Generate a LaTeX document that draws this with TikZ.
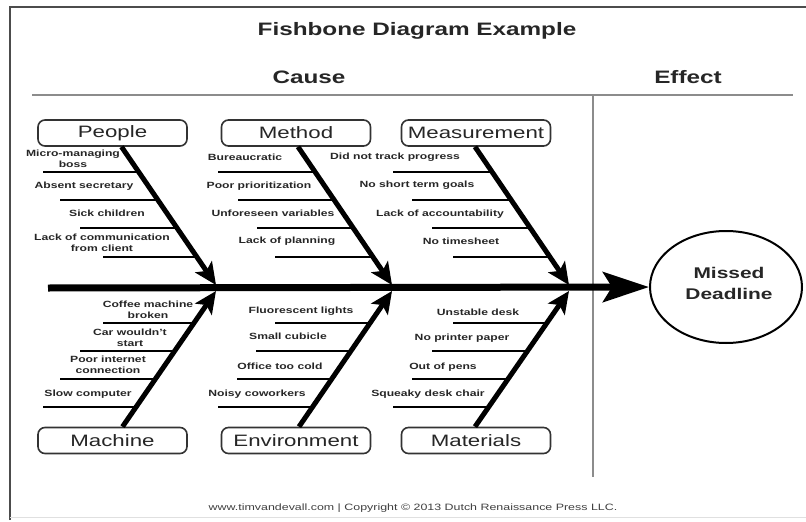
\documentclass[tikz,border=0pt]{standalone}
\usepackage{fontspec}
\setmainfont[FakeStretch=1.35]{Liberation Sans}
\usetikzlibrary{arrows.meta,shapes.geometric}
\begin{document}
\begin{tikzpicture}[x=1pt,y=-1pt,
  lab/.style={font=\fontsize{9}{11.5}\selectfont\bfseries, align=center, inner sep=0pt, text=black!85},
  catbox/.style={draw=black!80, line width=1.6pt, rounded corners=7pt, minimum width=149pt, minimum height=26pt, inner sep=0pt, font=\fontsize{16.5}{18}\selectfont, text=black!85},
  bone/.style={line width=5pt, -{Stealth[length=22pt,width=20pt,inset=5pt]}},
  twig/.style={line width=2.4pt},
  rulel/.style={draw=black!45, line width=2.5pt},
  head/.style={font=\fontsize{18}{20}\selectfont\bfseries, inner sep=0pt, text=black!85}]
\useasboundingbox (0,0) rectangle (806,522);
\fill[white] (0,0) rectangle (806,522);
% frame
\draw[black!70, line width=1.2pt] (10,520) -- (10,7) -- (806,7);
\draw[black!12, line width=1pt] (10,517) -- (806,517);
% headings
\node[head] (title) at (417,31) {Fishbone Diagram Example};
\node[head] (cause) at (309,77) {Cause};
\node[head] (effectlbl) at (688,77) {Effect};
\draw[rulel] (32,95) -- (793,95);
\draw[rulel] (593,95) -- (593,477);
% effect
\node[draw, ellipse, line width=2pt, minimum width=152pt, minimum height=112pt] (effect) at (726,287) {};
\node[align=center, inner sep=0pt, font=\fontsize{15.5}{21}\selectfont\bfseries, text=black!85] (efftext) at (729,283) {Missed\\Deadline};
% spine
\coordinate (sp) at (48,288);
\draw[line width=7pt, -{Stealth[length=46pt,width=30pt,inset=9pt]}] (sp) -- (effect.west);
% category boxes
\node[catbox] (ppl) at (112.5,133) {People};
\node[catbox] (mth) at (296,133) {Method};
\node[catbox] (msr) at (476,133) {Measurement};
\node[catbox] (mch) at (112.5,440.5) {Machine};
\node[catbox] (env) at (296,440.5) {Environment};
\node[catbox] (mat) at (476,440.5) {Materials};
% bone tips on spine
\coordinate (tp) at (216,285);
\coordinate (tm) at (392,285);
\coordinate (ts) at (569,285);
\coordinate (bm) at (216,291);
\coordinate (be) at (392,291);
\coordinate (bt) at (569,291);
% twigs
\draw[twig] (43,172) -- (139,172);
\draw[twig] (60,200) -- (158,200);
\draw[twig] (80,228) -- (177,228);
\draw[twig] (103,257) -- (197,257);
\draw[twig] (218,172) -- (315,172);
\draw[twig] (238,200) -- (334,200);
\draw[twig] (257,228) -- (353,228);
\draw[twig] (275,257) -- (373,257);
\draw[twig] (393,172) -- (492,172);
\draw[twig] (412,200) -- (511,200);
\draw[twig] (432,228) -- (530,228);
\draw[twig] (453,257) -- (550,257);
\draw[twig] (103,323) -- (194,323);
\draw[twig] (80,351) -- (175,351);
\draw[twig] (60,379) -- (156,379);
\draw[twig] (43,407) -- (137,407);
\draw[twig] (275,323) -- (370,323);
\draw[twig] (256,351) -- (351,351);
\draw[twig] (237,379) -- (332,379);
\draw[twig] (218,407) -- (313,407);
\draw[twig] (453,323) -- (546,323);
\draw[twig] (432,351) -- (527,351);
\draw[twig] (412,379) -- (508,379);
\draw[twig] (393,407) -- (489,407);
% bones
\draw[bone] ([xshift=9pt]ppl.south) -- (tp);
\draw[bone] ([xshift=2pt]mth.south) -- (tm);
\draw[bone] ([xshift=-1pt]msr.south) -- (ts);
\draw[bone] ([xshift=10pt]mch.north) -- (bm);
\draw[bone] ([xshift=3pt]env.north) -- (be);
\draw[bone] ([xshift=-1pt]mat.north) -- (bt);
% labels: People
\node[lab] (p1) at (73,159) {Micro-managing\\boss};
\node[lab] (p2) at (84,186) {Absent secretary};
\node[lab] (p3) at (107,213) {Sick children};
\node[lab] (p4) at (102,243) {Lack of communication\\from client};
% Method
\node[lab] (m1) at (245,157) {Bureaucratic};
\node[lab] (m2) at (259,186) {Poor prioritization};
\node[lab] (m3) at (273,213) {Unforeseen variables};
\node[lab] (m4) at (287,241) {Lack of planning};
% Measurement
\node[lab] (s1) at (395,157) {Did not track progress};
\node[lab] (s2) at (417,185) {No short term goals};
\node[lab] (s3) at (440,214) {Lack of accountability};
\node[lab] (s4) at (461,241) {No timesheet};
% Machine
\node[lab] (c1) at (148,310) {Coffee machine\\broken};
\node[lab] (c2) at (130,338) {Car wouldn't\\start};
\node[lab] (c3) at (108,365) {Poor internet\\connection};
\node[lab] (c4) at (88,394) {Slow computer};
% Environment
\node[lab] (e1) at (301,311) {Fluorescent lights};
\node[lab] (e2) at (288,336) {Small cubicle};
\node[lab] (e3) at (280,366) {Office too cold};
\node[lab] (e4) at (257,394) {Noisy coworkers};
% Materials
\node[lab] (t1) at (478,312) {Unstable desk};
\node[lab] (t2) at (462,338) {No printer paper};
\node[lab] (t3) at (443,367) {Out of pens};
\node[lab] (t4) at (428,394) {Squeaky desk chair};
% footer
\node[font=\fontsize{9.2}{10}\selectfont, text=black!75, inner sep=0pt] (foot) at (413,508)
  {www.timvandevall.com | Copyright © 2013 Dutch Renaissance Press LLC.};
\end{tikzpicture}
\end{document}
